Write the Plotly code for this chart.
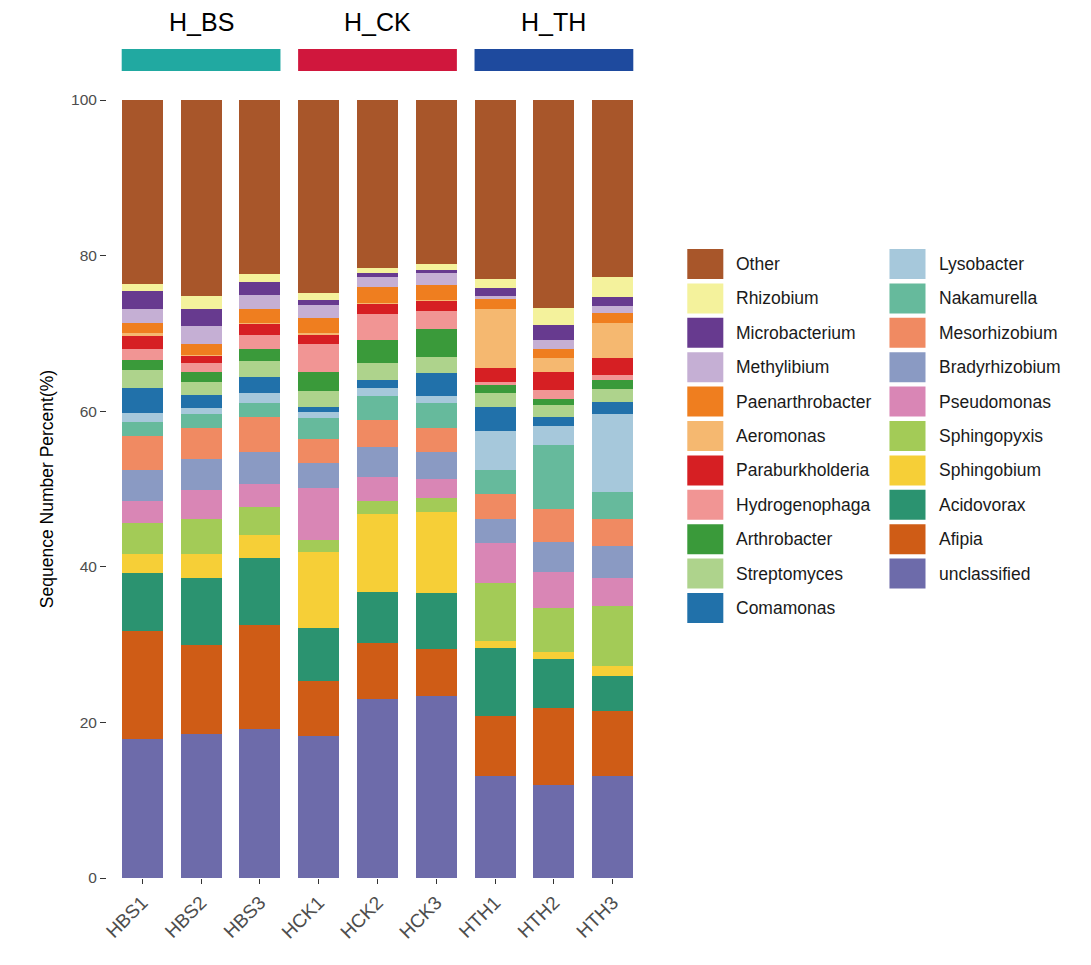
import plotly.graph_objects as go

samples = ['HBS1', 'HBS2', 'HBS3', 'HCK1', 'HCK2', 'HCK3', 'HTH1', 'HTH2', 'HTH3']
groups = ['H_BS', 'H_CK', 'H_TH']
group_colors = ['#21A9A1', '#D0173D', '#1E4A9E']

# relative abundance (%) per sample, stacked from the bottom up
unclassified = [17.9, 18.5, 19.2, 18.3, 23.0, 23.4, 13.1, 12.0, 13.1]
afipia = [13.9, 11.4, 13.3, 7.0, 7.2, 6.0, 7.7, 9.9, 8.4]
acidovorax = [7.4, 8.7, 8.6, 6.8, 6.6, 7.2, 8.8, 6.2, 4.5]
sphingobium = [2.4, 3.0, 3.0, 9.8, 10.0, 10.5, 0.9, 0.9, 1.2]
sphingopyxis = [4.0, 4.6, 3.6, 1.5, 1.7, 1.8, 7.4, 5.7, 7.7]
pseudomonas = [2.8, 3.7, 3.0, 6.7, 3.1, 2.4, 5.2, 4.6, 3.7]
bradyrhizobium = [4.0, 4.0, 4.1, 3.3, 3.8, 3.4, 3.1, 3.9, 4.1]
mesorhizobium = [4.4, 3.9, 4.4, 3.0, 3.5, 3.1, 3.2, 4.2, 3.4]
nakamurella = [1.8, 1.8, 1.9, 2.7, 3.1, 3.2, 3.1, 8.3, 3.5]
lysobacter = [1.2, 0.8, 1.3, 0.8, 1.0, 0.9, 4.9, 2.4, 10.0]
comamonas = [3.2, 1.7, 2.0, 0.6, 1.0, 3.0, 3.2, 1.1, 1.6]
streptomyces = [2.3, 1.6, 2.1, 2.1, 2.2, 2.1, 1.8, 1.6, 1.6]
arthrobacter = [1.3, 1.3, 1.5, 2.5, 3.0, 3.6, 1.0, 0.8, 1.2]
hydrogenophaga = [1.4, 1.2, 1.8, 3.6, 3.3, 2.3, 0.3, 1.1, 0.6]
paraburkholderia = [1.7, 0.9, 1.5, 1.2, 1.3, 1.3, 1.9, 2.3, 2.3]
aeromonas = [0.4, 0.1, 0.1, 0.1, 0.1, 0.1, 7.5, 1.9, 4.5]
paenarthrobacter = [1.3, 1.5, 1.7, 2.0, 2.1, 1.9, 1.3, 1.1, 1.2]
methylibium = [1.8, 2.3, 1.9, 1.6, 1.3, 1.6, 0.4, 1.1, 0.9]
microbacterium = [2.2, 2.1, 1.6, 0.7, 0.4, 0.4, 1.1, 2.0, 1.2]
rhizobium = [0.9, 1.7, 1.0, 0.9, 0.7, 0.7, 1.1, 2.2, 2.5]
other = [23.7, 25.3, 22.5, 24.9, 21.7, 21.2, 23.0, 26.7, 22.8]

taxa = [
    ('unclassified', unclassified, '#6D6BAA'),
    ('Afipia', afipia, '#CF5C16'),
    ('Acidovorax', acidovorax, '#2B9370'),
    ('Sphingobium', sphingobium, '#F6CF37'),
    ('Sphingopyxis', sphingopyxis, '#A3CB57'),
    ('Pseudomonas', pseudomonas, '#D986B5'),
    ('Bradyrhizobium', bradyrhizobium, '#8A9AC3'),
    ('Mesorhizobium', mesorhizobium, '#F08A62'),
    ('Nakamurella', nakamurella, '#66BA9C'),
    ('Lysobacter', lysobacter, '#A6C8DB'),
    ('Comamonas', comamonas, '#2171AA'),
    ('Streptomyces', streptomyces, '#AED38C'),
    ('Arthrobacter', arthrobacter, '#3A9A3A'),
    ('Hydrogenophaga', hydrogenophaga, '#F19594'),
    ('Paraburkholderia', paraburkholderia, '#D61F23'),
    ('Aeromonas', aeromonas, '#F5B870'),
    ('Paenarthrobacter', paenarthrobacter, '#EF7E1F'),
    ('Methylibium', methylibium, '#C5AFD4'),
    ('Microbacterium', microbacterium, '#673A8F'),
    ('Rhizobium', rhizobium, '#F4F29C'),
    ('Other', other, '#A8562A'),
]

FONT = 'Liberation Sans, Arial, sans-serif'

# plot area in page pixels (the page body adds an 8px margin)
L, R, T, B = 107.25, 647.75, 100, 878
PAD = 8


def xp(px):
    return (px - L) / (R - L)


def yp(py):
    return (B - py) / (B - T)


fig = go.Figure()
for name, vals, color in taxa:
    fig.add_trace(go.Bar(x=samples, y=vals, name=name, marker_color=color,
                         marker_line_width=0, showlegend=False))

shapes = []
annotations = []

# group strips above the bars
for i, (g, c) in enumerate(zip(groups, group_colors)):
    shapes.append(dict(type='rect', xref='x', yref='paper',
                       x0=3 * i - 0.35, x1=3 * i + 2.35, y0=yp(71), y1=yp(49),
                       fillcolor=c, line_width=0))
    annotations.append(dict(text=g, xref='x', yref='paper', x=3 * i + 1, y=yp(22),
                            xanchor='center', yanchor='middle', showarrow=False,
                            font=dict(size=25, color='black', family=FONT)))

# two column legend, drawn by hand (top of stack first)
legend_items = list(reversed(taxa))
for k, (name, vals, color) in enumerate(legend_items):
    col, row = (0, k) if k < 11 else (1, k - 11)
    x0 = 687 if col == 0 else 889
    cy = 264 + 34.4 * row
    shapes.append(dict(type='rect', xref='paper', yref='paper',
                       x0=xp(x0), x1=xp(x0 + 36), y0=yp(cy + 15), y1=yp(cy - 15),
                       fillcolor=color, line_width=0))
    annotations.append(dict(text=name, xref='paper', yref='paper', x=xp(x0 + 47), y=yp(cy),
                            xanchor='left', yanchor='middle', showarrow=False,
                            font=dict(size=17.5, color='#1A1A1A', family=FONT)))

fig.update_layout(
    barmode='stack',
    bargap=0.3,
    width=1091,
    height=965,
    margin=dict(l=L - PAD, r=1091 - R + PAD, t=T - PAD, b=965 - B + PAD),
    plot_bgcolor='white',
    paper_bgcolor='white',
    font=dict(family=FONT),
    shapes=shapes,
    annotations=annotations,
    xaxis=dict(range=[-0.6, 8.6], tickangle=-45, showgrid=False, zeroline=False,
               ticks='outside', ticklen=5, tickcolor='#333333', showline=False,
               tickfont=dict(size=19, color='#4D4D4D')),
    yaxis=dict(range=[0, 100], tickvals=[0, 20, 40, 60, 80, 100], showgrid=False,
               zeroline=False, ticks='outside', ticklen=6, tickcolor='#333333',
               showline=False, tickfont=dict(size=15.5, color='#4D4D4D'),
               title=dict(text='Sequence Number Percent(%)', standoff=12,
                          font=dict(size=17.5, color='black'))),
)

fig.write_html('out.html')
